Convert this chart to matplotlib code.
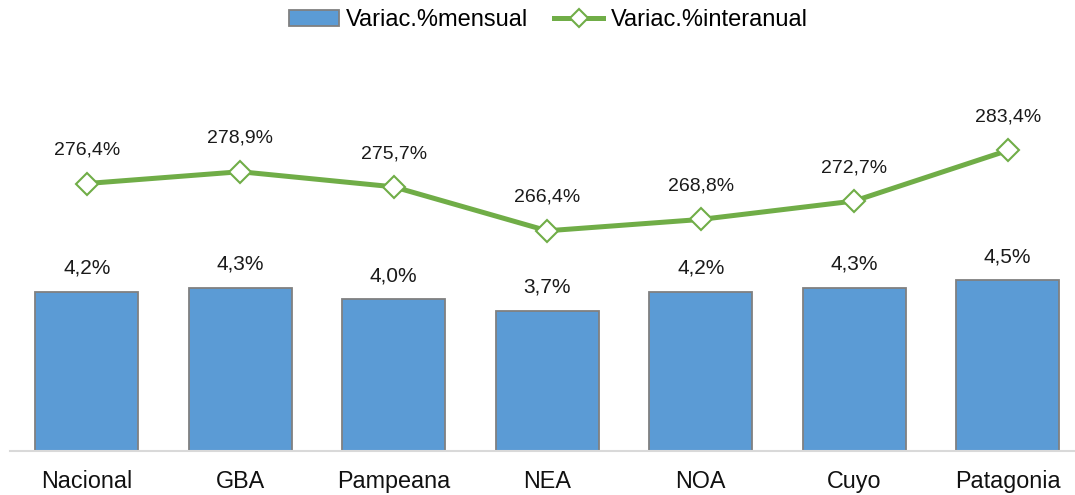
import matplotlib

matplotlib.use("Agg")

import matplotlib.pyplot as plt
from matplotlib.lines import Line2D
from matplotlib.patches import Patch

regions = ["Nacional", "GBA", "Pampeana", "NEA", "NOA", "Cuyo", "Patagonia"]
monthly = [4.2, 4.3, 4.0, 3.7, 4.2, 4.3, 4.5]
yearly = [276.4, 278.9, 275.7, 266.4, 268.8, 272.7, 283.4]

BAR_COLOR = "#5B9BD5"
LINE_COLOR = "#70AD47"

plt.rcParams["font.family"] = ["Liberation Sans", "DejaVu Sans"]


def fmt(v):
    return f"{v:.1f}%".replace(".", ",")


fig = plt.figure(figsize=(10.75, 4.95), dpi=100)
ax = fig.add_axes([10 / 1075, 44 / 495, 1074.5 / 1075, 379 / 495])
x = list(range(len(regions)))

ax.bar(x, monthly, width=0.67, color=BAR_COLOR, edgecolor="#808080", linewidth=1.3, zorder=2)
ax.set_xlim(-0.5, len(regions) - 0.5)
ax.set_ylim(0, 10)
for xi, v in zip(x, monthly):
    ax.annotate(fmt(v), (xi, v), xytext=(0, 17), textcoords="offset points",
                ha="center", va="center", fontsize=15, color="#1a1a1a")

ax.set_xticks(x)
ax.set_xticklabels(regions, fontsize=16.8, color="#111111")
ax.tick_params(axis="x", length=0, pad=14)
ax.set_yticks([])
for side in ["left", "right", "top"]:
    ax.spines[side].set_visible(False)
ax.spines["bottom"].set_color("#D9D9D9")
ax.spines["bottom"].set_linewidth(1.5)

ax2 = ax.twinx()
ax2.plot(x, yearly, color=LINE_COLOR, linewidth=3.6, marker="D", markersize=11,
         markerfacecolor="white", markeredgecolor=LINE_COLOR, markeredgewidth=1.5, zorder=3)
ax2.set_ylim(219.8, 300)
ax2.set_yticks([])
for side in ["left", "right", "top", "bottom"]:
    ax2.spines[side].set_visible(False)
for xi, v in zip(x, yearly):
    ax2.annotate(fmt(v), (xi, v), xytext=(0, 24), textcoords="offset points",
                 ha="center", va="center", fontsize=14, color="#1a1a1a")

handles = [
    Patch(facecolor=BAR_COLOR, edgecolor="#808080", linewidth=1.3),
    Line2D([0], [0], color=LINE_COLOR, linewidth=3.6, marker="D", markersize=9,
           markerfacecolor="white", markeredgecolor=LINE_COLOR, markeredgewidth=1.5),
]
fig.legend(handles, ["Variac.%mensual", "Variac.%interanual"], loc="center",
           bbox_to_anchor=(0.51, 1 - 20 / 495), ncol=2, frameon=False, fontsize=17,
           handlelength=2.1, handleheight=0.65, handletextpad=0.3, columnspacing=1.1)

fig.savefig("out.png", dpi=100)
plt.close(fig)
